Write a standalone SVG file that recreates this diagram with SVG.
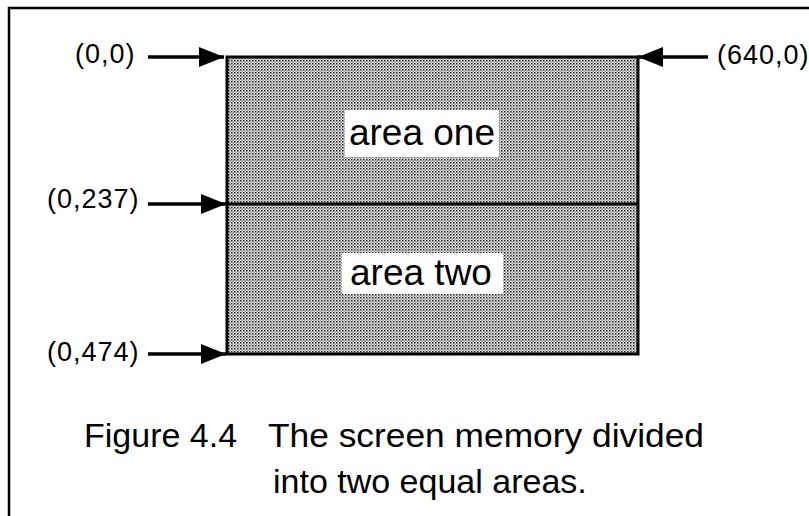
<svg xmlns="http://www.w3.org/2000/svg" width="809" height="516" viewBox="0 0 809 516">
<style>
.lbl{font-family:"Liberation Sans",Arial,sans-serif;font-size:27px;fill:#000}
.area{font-family:"Liberation Sans",Arial,sans-serif;font-size:37px;fill:#000}
.cap{font-family:"Liberation Sans",Arial,sans-serif;font-size:34px;fill:#000}
.conn{stroke:#000;stroke-width:3.5;fill:none}
</style>
<defs>
<pattern id="dots" width="3" height="3" patternUnits="userSpaceOnUse">
<rect width="3" height="3" fill="#e8e8e8"/>
<rect x="0" y="0" width="1.5" height="1.5" fill="#222"/>
<rect x="1.5" y="1.5" width="1.2" height="1.2" fill="#666"/>
</pattern>
<marker id="ah" viewBox="0 0 25 20" refX="25" refY="10" markerWidth="25" markerHeight="20" markerUnits="userSpaceOnUse" orient="auto">
<path d="M0,0 L25,10 L0,20 Z" fill="#000"/>
</marker>
</defs>
<g id="frame">
<path d="M9,516 V8 H809" stroke="#000" stroke-width="2.5" fill="none"/>
</g>
<g id="screen">
<rect x="227" y="57" width="411" height="297" fill="url(#dots)" stroke="#000" stroke-width="3"/>
<line x1="227" y1="204" x2="638" y2="204" stroke="#000" stroke-width="3"/>
</g>
<g id="area-one">
<rect x="345" y="110" width="154" height="47" fill="#fff"/>
<text class="area" x="422" y="145" text-anchor="middle">area one</text>
</g>
<g id="area-two">
<rect x="342" y="253" width="161" height="41" fill="#fff"/>
<text class="area" x="421" y="285" text-anchor="middle">area two</text>
</g>
<g id="label-00"><text class="lbl" x="75" y="63" letter-spacing="1">(0,0)</text></g>
<g id="label-6400"><text class="lbl" x="717" y="64" letter-spacing="1">(640,0)</text></g>
<g id="label-0237"><text class="lbl" x="47" y="208" letter-spacing="1">(0,237)</text></g>
<g id="label-0474"><text class="lbl" x="47" y="361" letter-spacing="1">(0,474)</text></g>
<g id="connectors">
<line class="conn" x1="148" y1="57" x2="224" y2="57" marker-end="url(#ah)"/>
<line class="conn" x1="708" y1="57" x2="638" y2="57" marker-end="url(#ah)"/>
<line class="conn" x1="148" y1="204" x2="226" y2="204" marker-end="url(#ah)"/>
<line class="conn" x1="148" y1="354" x2="226" y2="354" marker-end="url(#ah)"/>
</g>
<g id="caption">
<text class="cap" x="84" y="447">Figure 4.4</text>
<text class="cap" x="268" y="447" textLength="436" lengthAdjust="spacingAndGlyphs">The screen memory divided</text>
<text class="cap" x="273" y="493">into two equal areas.</text>
</g>
</svg>
